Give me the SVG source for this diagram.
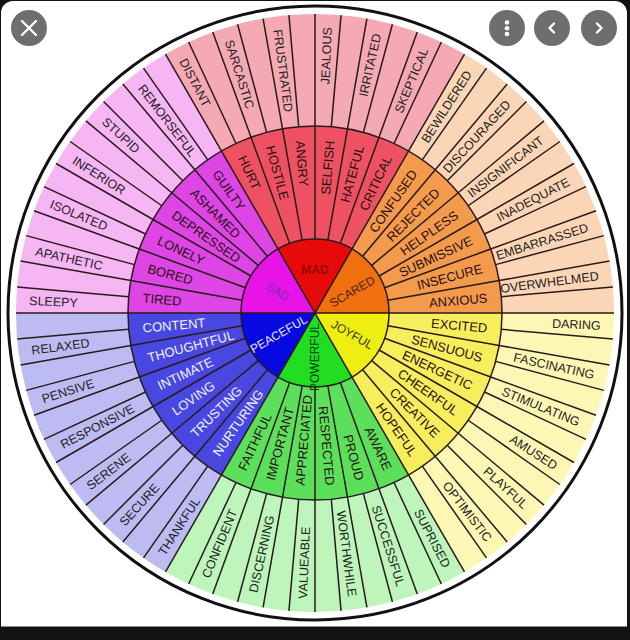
<svg xmlns="http://www.w3.org/2000/svg" xmlns:xlink="http://www.w3.org/1999/xlink" width="630" height="640" viewBox="0 0 630 640">
<style>
text{font-family:"Liberation Sans",Arial,sans-serif}
.o{font-size:12.5px;fill:#222}
.m{font-size:13px;fill:#2a1010}
.mw{font-size:13px;fill:#f2f2ff}
.c{font-size:12px;text-anchor:middle}
.sp{stroke:#2a1a1a;stroke-width:1.5;fill:none}
.btn{fill:#6e6f6c}
.ic{stroke:#fff;stroke-width:2.4;fill:none;stroke-linecap:round;stroke-linejoin:round}
</style>
<defs>
<path id="w3" d="M0,0 L299,0 A299,299 0 0 1 149.5,258.94 Z"/>
<path id="w2" d="M0,0 L187,0 A187,187 0 0 1 93.5,161.94 Z"/>
<path id="w1" d="M0,0 L74,0 A74,74 0 0 1 37,64.09 Z"/>
<line id="lo" x1="187" y1="0" x2="299" y2="0"/>
<line id="lm" x1="74" y1="0" x2="187" y2="0"/>
<line id="lc" x1="0" y1="0" x2="74" y2="0"/>
</defs>
<rect width="630" height="640" fill="#121212"/>
<path d="M1,13 A12,12 0 0 1 13,1 H615 A12,12 0 0 1 627,13 V626.5 H1 Z" fill="#fff"/>
<circle cx="315" cy="313" r="307" fill="none" stroke="#111" stroke-width="3"/>
<g transform="translate(315,313)">
<g id="joyful">
<use xlink:href="#w3" fill="#fdf7b5"/>
<use xlink:href="#w2" fill="#f6ee5c"/>
<use xlink:href="#w1" fill="#eeee12"/>
</g>
<g id="powerful">
<use xlink:href="#w3" transform="rotate(60)" fill="#bdf5bb"/>
<use xlink:href="#w2" transform="rotate(60)" fill="#5ce05c"/>
<use xlink:href="#w1" transform="rotate(60)" fill="#22dd22"/>
</g>
<g id="peaceful">
<use xlink:href="#w3" transform="rotate(120)" fill="#bcbcf2"/>
<use xlink:href="#w2" transform="rotate(120)" fill="#4848e0"/>
<use xlink:href="#w1" transform="rotate(120)" fill="#0808e0"/>
</g>
<g id="sad">
<use xlink:href="#w3" transform="rotate(180)" fill="#f6b5f3"/>
<use xlink:href="#w2" transform="rotate(180)" fill="#dd45e5"/>
<use xlink:href="#w1" transform="rotate(180)" fill="#e614e6"/>
</g>
<g id="mad">
<use xlink:href="#w3" transform="rotate(240)" fill="#f5a9b3"/>
<use xlink:href="#w2" transform="rotate(240)" fill="#ee5262"/>
<use xlink:href="#w1" transform="rotate(240)" fill="#e60a0a"/>
</g>
<g id="scared">
<use xlink:href="#w3" transform="rotate(300)" fill="#fbd6b6"/>
<use xlink:href="#w2" transform="rotate(300)" fill="#f49a4c"/>
<use xlink:href="#w1" transform="rotate(300)" fill="#f07010"/>
</g>
<g id="connectors" class="sp">
<circle r="187"/>
<circle r="74"/>
<use xlink:href="#lo" transform="rotate(0)"/><use xlink:href="#lo" transform="rotate(5)"/><use xlink:href="#lo" transform="rotate(10)"/><use xlink:href="#lo" transform="rotate(15)"/><use xlink:href="#lo" transform="rotate(20)"/><use xlink:href="#lo" transform="rotate(25)"/><use xlink:href="#lo" transform="rotate(30)"/><use xlink:href="#lo" transform="rotate(35)"/><use xlink:href="#lo" transform="rotate(40)"/><use xlink:href="#lo" transform="rotate(45)"/><use xlink:href="#lo" transform="rotate(50)"/><use xlink:href="#lo" transform="rotate(55)"/>
<use xlink:href="#lo" transform="rotate(60)"/><use xlink:href="#lo" transform="rotate(65)"/><use xlink:href="#lo" transform="rotate(70)"/><use xlink:href="#lo" transform="rotate(75)"/><use xlink:href="#lo" transform="rotate(80)"/><use xlink:href="#lo" transform="rotate(85)"/><use xlink:href="#lo" transform="rotate(90)"/><use xlink:href="#lo" transform="rotate(95)"/><use xlink:href="#lo" transform="rotate(100)"/><use xlink:href="#lo" transform="rotate(105)"/><use xlink:href="#lo" transform="rotate(110)"/><use xlink:href="#lo" transform="rotate(115)"/>
<use xlink:href="#lo" transform="rotate(120)"/><use xlink:href="#lo" transform="rotate(125)"/><use xlink:href="#lo" transform="rotate(130)"/><use xlink:href="#lo" transform="rotate(135)"/><use xlink:href="#lo" transform="rotate(140)"/><use xlink:href="#lo" transform="rotate(145)"/><use xlink:href="#lo" transform="rotate(150)"/><use xlink:href="#lo" transform="rotate(155)"/><use xlink:href="#lo" transform="rotate(160)"/><use xlink:href="#lo" transform="rotate(165)"/><use xlink:href="#lo" transform="rotate(170)"/><use xlink:href="#lo" transform="rotate(175)"/>
<use xlink:href="#lo" transform="rotate(180)"/><use xlink:href="#lo" transform="rotate(185)"/><use xlink:href="#lo" transform="rotate(190)"/><use xlink:href="#lo" transform="rotate(195)"/><use xlink:href="#lo" transform="rotate(200)"/><use xlink:href="#lo" transform="rotate(205)"/><use xlink:href="#lo" transform="rotate(210)"/><use xlink:href="#lo" transform="rotate(215)"/><use xlink:href="#lo" transform="rotate(220)"/><use xlink:href="#lo" transform="rotate(225)"/><use xlink:href="#lo" transform="rotate(230)"/><use xlink:href="#lo" transform="rotate(235)"/>
<use xlink:href="#lo" transform="rotate(240)"/><use xlink:href="#lo" transform="rotate(245)"/><use xlink:href="#lo" transform="rotate(250)"/><use xlink:href="#lo" transform="rotate(255)"/><use xlink:href="#lo" transform="rotate(260)"/><use xlink:href="#lo" transform="rotate(265)"/><use xlink:href="#lo" transform="rotate(270)"/><use xlink:href="#lo" transform="rotate(275)"/><use xlink:href="#lo" transform="rotate(280)"/><use xlink:href="#lo" transform="rotate(285)"/><use xlink:href="#lo" transform="rotate(290)"/><use xlink:href="#lo" transform="rotate(295)"/>
<use xlink:href="#lo" transform="rotate(300)"/><use xlink:href="#lo" transform="rotate(305)"/><use xlink:href="#lo" transform="rotate(310)"/><use xlink:href="#lo" transform="rotate(315)"/><use xlink:href="#lo" transform="rotate(320)"/><use xlink:href="#lo" transform="rotate(325)"/><use xlink:href="#lo" transform="rotate(330)"/><use xlink:href="#lo" transform="rotate(335)"/><use xlink:href="#lo" transform="rotate(340)"/><use xlink:href="#lo" transform="rotate(345)"/><use xlink:href="#lo" transform="rotate(350)"/><use xlink:href="#lo" transform="rotate(355)"/>
<use xlink:href="#lm" transform="rotate(0)"/><use xlink:href="#lm" transform="rotate(10)"/><use xlink:href="#lm" transform="rotate(20)"/><use xlink:href="#lm" transform="rotate(30)"/><use xlink:href="#lm" transform="rotate(40)"/><use xlink:href="#lm" transform="rotate(50)"/>
<use xlink:href="#lm" transform="rotate(60)"/><use xlink:href="#lm" transform="rotate(70)"/><use xlink:href="#lm" transform="rotate(80)"/><use xlink:href="#lm" transform="rotate(90)"/><use xlink:href="#lm" transform="rotate(100)"/><use xlink:href="#lm" transform="rotate(110)"/>
<use xlink:href="#lm" transform="rotate(120)"/><use xlink:href="#lm" transform="rotate(130)"/><use xlink:href="#lm" transform="rotate(140)"/><use xlink:href="#lm" transform="rotate(150)"/><use xlink:href="#lm" transform="rotate(160)"/><use xlink:href="#lm" transform="rotate(170)"/>
<use xlink:href="#lm" transform="rotate(180)"/><use xlink:href="#lm" transform="rotate(190)"/><use xlink:href="#lm" transform="rotate(200)"/><use xlink:href="#lm" transform="rotate(210)"/><use xlink:href="#lm" transform="rotate(220)"/><use xlink:href="#lm" transform="rotate(230)"/>
<use xlink:href="#lm" transform="rotate(240)"/><use xlink:href="#lm" transform="rotate(250)"/><use xlink:href="#lm" transform="rotate(260)"/><use xlink:href="#lm" transform="rotate(270)"/><use xlink:href="#lm" transform="rotate(280)"/><use xlink:href="#lm" transform="rotate(290)"/>
<use xlink:href="#lm" transform="rotate(300)"/><use xlink:href="#lm" transform="rotate(310)"/><use xlink:href="#lm" transform="rotate(320)"/><use xlink:href="#lm" transform="rotate(330)"/><use xlink:href="#lm" transform="rotate(340)"/><use xlink:href="#lm" transform="rotate(350)"/>
<use xlink:href="#lc" transform="rotate(0)"/><use xlink:href="#lc" transform="rotate(60)"/><use xlink:href="#lc" transform="rotate(120)"/><use xlink:href="#lc" transform="rotate(180)"/><use xlink:href="#lc" transform="rotate(240)"/><use xlink:href="#lc" transform="rotate(300)"/>
</g>
<g id="joyful-labels">
<text class="c" transform="rotate(30)" x="43" dy="0.35em" fill="#3a3a00">JOYFUL</text>
<g class="m" text-anchor="end">
<text transform="rotate(5)" x="173" dy="0.35em">EXCITED</text>
<text transform="rotate(15)" x="173" dy="0.35em">SENSUOUS</text>
<text transform="rotate(25)" x="173" dy="0.35em">ENERGETIC</text>
<text transform="rotate(35)" x="173" dy="0.35em">CHEERFUL</text>
<text transform="rotate(45)" x="173" dy="0.35em">CREATIVE</text>
<text transform="rotate(55)" x="173" dy="0.35em">HOPEFUL</text>
</g>
<g class="o" text-anchor="end">
<text transform="rotate(2.5)" x="286" dy="0.35em">DARING</text>
<text transform="rotate(12.5)" x="286" dy="0.35em">FASCINATING</text>
<text transform="rotate(22.5)" x="286" dy="0.35em">STIMULATING</text>
<text transform="rotate(32.5)" x="286" dy="0.35em">AMUSED</text>
<text transform="rotate(42.5)" x="286" dy="0.35em">PLAYFUL</text>
<text transform="rotate(52.5)" x="286" dy="0.35em">OPTIMISTIC</text>
</g>
</g>
<g id="powerful-labels">
<text class="c" transform="rotate(-90)" x="-44" dy="0.35em" fill="#064006" font-size="11">POWERFUL</text>
<g class="m" text-anchor="end">
<text transform="rotate(65)" x="173" dy="0.35em">AWARE</text>
<text transform="rotate(75)" x="173" dy="0.35em">PROUD</text>
<text transform="rotate(85)" x="173" dy="0.35em">RESPECTED</text>
</g>
<g class="m" text-anchor="start">
<text transform="rotate(-85)" x="-173" dy="0.35em">APPRECIATED</text>
<text transform="rotate(-75)" x="-173" dy="0.35em">IMPORTANT</text>
<text transform="rotate(-65)" x="-173" dy="0.35em">FAITHFUL</text>
</g>
<g class="o" text-anchor="end">
<text transform="rotate(62.5)" x="286" dy="0.35em">SUPRISED</text>
<text transform="rotate(72.5)" x="286" dy="0.35em">SUCCESSFUL</text>
<text transform="rotate(82.5)" x="286" dy="0.35em">WORTHWHILE</text>
</g>
<g class="o" text-anchor="start">
<text transform="rotate(-87.5)" x="-286" dy="0.35em">VALUEABLE</text>
<text transform="rotate(-77.5)" x="-286" dy="0.35em">DISCERNING</text>
<text transform="rotate(-67.5)" x="-286" dy="0.35em">CONFIDENT</text>
</g>
</g>
<g id="peaceful-labels">
<text class="c" transform="rotate(-30)" x="-42" dy="0.35em" fill="#e8e8ff">PEACEFUL</text>
<g class="mw" text-anchor="start">
<text transform="rotate(-55)" x="-173" dy="0.35em">NURTURING</text>
<text transform="rotate(-45)" x="-173" dy="0.35em">TRUSTING</text>
<text transform="rotate(-35)" x="-173" dy="0.35em">LOVING</text>
<text transform="rotate(-25)" x="-173" dy="0.35em">INTIMATE</text>
<text transform="rotate(-15)" x="-173" dy="0.35em">THOUGHTFUL</text>
<text transform="rotate(-5)" x="-173" dy="0.35em">CONTENT</text>
</g>
<g class="o" text-anchor="start">
<text transform="rotate(-57.5)" x="-286" dy="0.35em">THANKFUL</text>
<text transform="rotate(-47.5)" x="-286" dy="0.35em">SECURE</text>
<text transform="rotate(-37.5)" x="-286" dy="0.35em">SERENE</text>
<text transform="rotate(-27.5)" x="-286" dy="0.35em">RESPONSIVE</text>
<text transform="rotate(-17.5)" x="-286" dy="0.35em">PENSIVE</text>
<text transform="rotate(-7.5)" x="-286" dy="0.35em">RELAXED</text>
</g>
</g>
<g id="sad-labels">
<text class="c" transform="rotate(30)" x="-43" dy="0.35em" fill="#7a2eb0">SAD</text>
<g class="m" text-anchor="start">
<text transform="rotate(5)" x="-173" dy="0.35em">TIRED</text>
<text transform="rotate(15)" x="-173" dy="0.35em">BORED</text>
<text transform="rotate(25)" x="-173" dy="0.35em">LONELY</text>
<text transform="rotate(35)" x="-173" dy="0.35em">DEPRESSED</text>
<text transform="rotate(45)" x="-173" dy="0.35em">ASHAMED</text>
<text transform="rotate(55)" x="-173" dy="0.35em">GUILTY</text>
</g>
<g class="o" text-anchor="start">
<text transform="rotate(2.5)" x="-286" dy="0.35em">SLEEPY</text>
<text transform="rotate(12.5)" x="-286" dy="0.35em">APATHETIC</text>
<text transform="rotate(22.5)" x="-286" dy="0.35em">ISOLATED</text>
<text transform="rotate(32.5)" x="-286" dy="0.35em">INFERIOR</text>
<text transform="rotate(42.5)" x="-286" dy="0.35em">STUPID</text>
<text transform="rotate(52.5)" x="-286" dy="0.35em">REMORSEFUL</text>
</g>
</g>
<g id="mad-labels">
<text class="c" x="0" y="-43" dy="0.35em" fill="#9a0000" font-weight="bold" font-size="11">MAD</text>
<g class="m" text-anchor="start">
<text transform="rotate(65)" x="-173" dy="0.35em">HURT</text>
<text transform="rotate(75)" x="-173" dy="0.35em">HOSTILE</text>
<text transform="rotate(85)" x="-173" dy="0.35em">ANGRY</text>
</g>
<g class="m" text-anchor="end">
<text transform="rotate(-85)" x="173" dy="0.35em">SELFISH</text>
<text transform="rotate(-75)" x="173" dy="0.35em">HATEFUL</text>
<text transform="rotate(-65)" x="173" dy="0.35em">CRITICAL</text>
</g>
<g class="o" text-anchor="start">
<text transform="rotate(62.5)" x="-286" dy="0.35em">DISTANT</text>
<text transform="rotate(72.5)" x="-286" dy="0.35em">SARCASTIC</text>
<text transform="rotate(82.5)" x="-286" dy="0.35em">FRUSTRATED</text>
</g>
<g class="o" text-anchor="end">
<text transform="rotate(-87.5)" x="286" dy="0.35em">JEALOUS</text>
<text transform="rotate(-77.5)" x="286" dy="0.35em">IRRITATED</text>
<text transform="rotate(-67.5)" x="286" dy="0.35em">SKEPTICAL</text>
</g>
</g>
<g id="scared-labels">
<text class="c" transform="rotate(-30)" x="43" dy="0.35em" fill="#4a2000">SCARED</text>
<g class="m" text-anchor="end">
<text transform="rotate(-55)" x="173" dy="0.35em">CONFUSED</text>
<text transform="rotate(-45)" x="173" dy="0.35em">REJECTED</text>
<text transform="rotate(-35)" x="173" dy="0.35em">HELPLESS</text>
<text transform="rotate(-25)" x="173" dy="0.35em">SUBMISSIVE</text>
<text transform="rotate(-15)" x="173" dy="0.35em">INSECURE</text>
<text transform="rotate(-5)" x="173" dy="0.35em">ANXIOUS</text>
</g>
<g class="o" text-anchor="end">
<text transform="rotate(-57.5)" x="286" dy="0.35em">BEWILDERED</text>
<text transform="rotate(-47.5)" x="286" dy="0.35em">DISCOURAGED</text>
<text transform="rotate(-37.5)" x="286" dy="0.35em">INSIGNIFICANT</text>
<text transform="rotate(-27.5)" x="286" dy="0.35em">INADEQUATE</text>
<text transform="rotate(-17.5)" x="286" dy="0.35em">EMBARRASSED</text>
<text transform="rotate(-7.5)" x="286" dy="0.35em">OVERWHELMED</text>
</g>
</g>
</g>
<g id="buttons">
<circle class="btn" cx="29" cy="28" r="18"/>
<path class="ic" d="M22,21 L36,35 M36,21 L22,35"/>
<circle class="btn" cx="507" cy="28" r="18"/>
<circle cx="507" cy="22.5" r="2.3" fill="#fff"/>
<circle cx="507" cy="28.3" r="2.3" fill="#fff"/>
<circle cx="507" cy="34" r="2.3" fill="#fff"/>
<circle class="btn" cx="552" cy="28" r="18"/>
<path class="ic" d="M554,23.5 L549.5,28 L554,32.5"/>
<circle class="btn" cx="599" cy="28" r="18"/>
<path class="ic" d="M597,23.5 L601.5,28 L597,32.5"/>
</g>
</svg>
